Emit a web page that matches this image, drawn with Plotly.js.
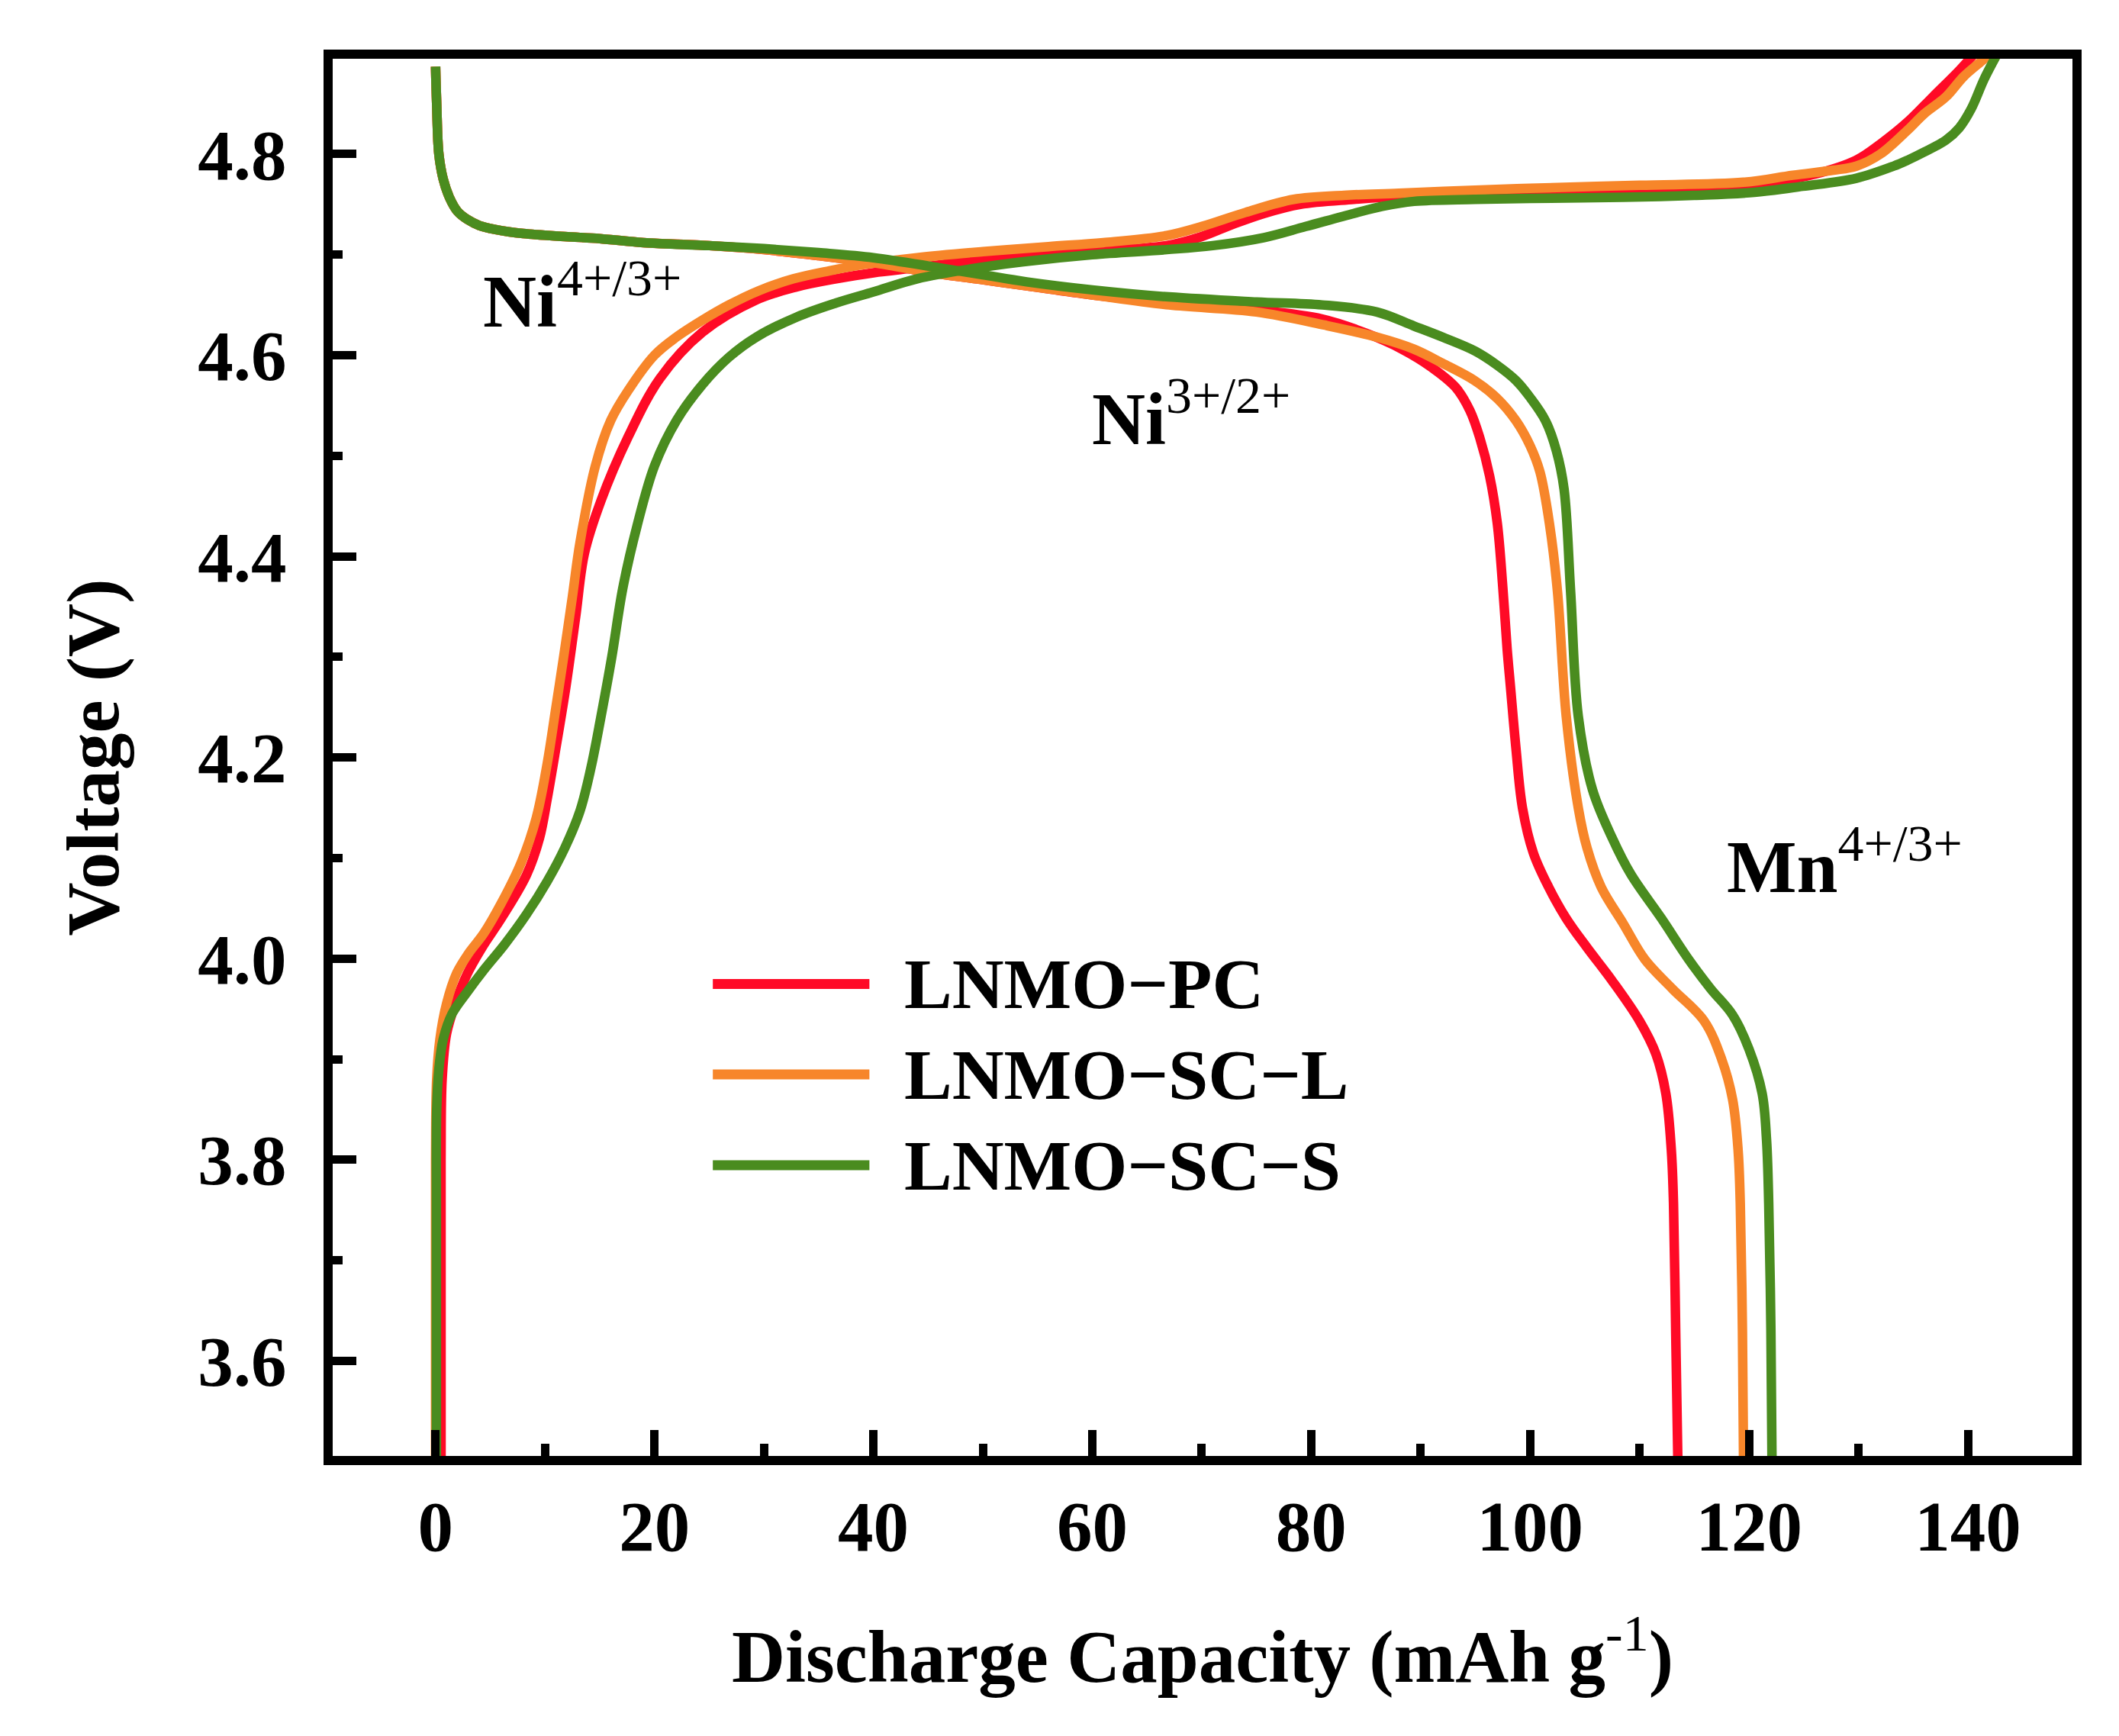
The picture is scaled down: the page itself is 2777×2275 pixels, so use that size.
<!DOCTYPE html>
<html>
<head>
<meta charset="utf-8">
<script src="https://cdn.plot.ly/plotly-3.0.1.min.js"></script>
<style>
  html, body { margin: 0; padding: 0; background: #fff; }
  #chart { width: 2777px; height: 2275px; }
</style>
</head>
<body>
<div id="chart"></div>
<script>
// sample names and colours
names = ["LNMO\u2212PC", "LNMO\u2212SC\u2212L", "LNMO\u2212SC\u2212S"]
colors = ["#ff0a26", "#f7862a", "#4a8c1f"]

// discharge branches (capacity, voltage)
pcDisX = [0, 0.1, 0.3, 0.7, 1.3, 2.0, 2.9, 4.0, 5.5, 8, 11.8, 15, 19, 25, 30, 35, 40, 46, 50, 54, 60, 67, 75, 81, 85, 88.3, 91, 93.2, 94.5, 95.4, 96.3, 97.0, 97.5, 97.9, 98.2, 98.7, 99.3, 100.3, 101.7, 103.3, 105.2, 107.5, 110, 111.5, 112.4, 112.9, 113.1, 113.3, 113.5]
pcDisV = [4.887, 4.85, 4.80, 4.775, 4.756, 4.743, 4.735, 4.729, 4.725, 4.721, 4.718, 4.716, 4.712, 4.709, 4.705, 4.699, 4.692, 4.681, 4.675, 4.669, 4.660, 4.652, 4.645, 4.636, 4.622, 4.606, 4.588, 4.568, 4.545, 4.518, 4.48, 4.433, 4.37, 4.308, 4.271, 4.21, 4.15, 4.105, 4.071, 4.04, 4.011, 3.978, 3.938, 3.905, 3.866, 3.81, 3.757, 3.63, 3.50]

sclDisX = [0, 0.1, 0.3, 0.7, 1.3, 2.0, 2.9, 4.0, 5.5, 8, 11.8, 15, 19, 25, 30, 35, 40, 46, 50, 54, 60, 67, 75, 81.2, 86, 89.4, 92, 94.9, 97, 98.7, 100, 100.9, 101.8, 102.5, 103.3, 104.4, 105.2, 106.5, 108.5, 110.5, 113, 115.9, 117.5, 118.5, 119.0, 119.2, 119.4, 119.5]
sclDisV = [4.887, 4.85, 4.80, 4.775, 4.756, 4.743, 4.735, 4.729, 4.725, 4.721, 4.718, 4.716, 4.712, 4.709, 4.705, 4.699, 4.692, 4.681, 4.675, 4.669, 4.660, 4.650, 4.643, 4.630, 4.618, 4.606, 4.592, 4.575, 4.557, 4.535, 4.51, 4.484, 4.43, 4.365, 4.241, 4.15, 4.11, 4.071, 4.035, 3.999, 3.97, 3.938, 3.90, 3.86, 3.81, 3.757, 3.63, 3.50]

scsDisX = [0, 0.1, 0.3, 0.7, 1.3, 2.0, 2.9, 4.0, 5.5, 8, 11.8, 15, 19, 25, 30, 35, 40, 46, 50, 54, 60, 67, 75, 81, 86, 89.4, 92, 95, 97, 98.7, 100, 101.4, 102.4, 103.1, 103.7, 104.4, 105.7, 107.5, 109.2, 112, 114.5, 116.5, 118.5, 120, 121.2, 121.6, 121.8, 122.0, 122.1]
scsDisV = [4.887, 4.85, 4.80, 4.775, 4.756, 4.743, 4.735, 4.729, 4.725, 4.721, 4.718, 4.716, 4.712, 4.709, 4.706, 4.702, 4.697, 4.687, 4.680, 4.673, 4.665, 4.658, 4.653, 4.650, 4.643, 4.629, 4.618, 4.604, 4.590, 4.575, 4.558, 4.535, 4.505, 4.467, 4.365, 4.241, 4.168, 4.12, 4.084, 4.04, 3.999, 3.97, 3.944, 3.91, 3.866, 3.82, 3.757, 3.63, 3.50]

// charge branches
pcChgX = [0.5, 0.5, 0.6, 1.0, 1.8, 2.9, 4.3, 6.0, 8.3, 9.5, 10.2, 11.0, 11.9, 12.8, 13.6, 15.1, 17.6, 20.5, 24.4, 29.3, 33, 36.6, 40, 44, 50, 56, 61, 66.8, 70, 72.8, 75.7, 79, 83.9, 88, 95, 105, 115, 122, 126, 129.8, 132, 134.5, 136.8, 139.2, 140.6]
pcChgV = [3.50, 3.80, 3.88, 3.925, 3.955, 3.985, 4.012, 4.04, 4.083, 4.12, 4.159, 4.21, 4.27, 4.34, 4.403, 4.455, 4.519, 4.577, 4.623, 4.655, 4.668, 4.676, 4.682, 4.687, 4.695, 4.70, 4.704, 4.709, 4.718, 4.73, 4.741, 4.75, 4.755, 4.758, 4.760, 4.762, 4.766, 4.772, 4.78, 4.794, 4.81, 4.832, 4.857, 4.883, 4.90]

sclChgX = [0, 0, 0.1, 0.4, 1.0, 1.9, 3.0, 4.4, 6.0, 7.8, 9.2, 10.2, 11.0, 11.7, 12.5, 13.2, 14.6, 16, 17.6, 20, 22, 24.4, 26.8, 29.5, 32.7, 36, 39, 44, 50, 56, 61, 66.8, 70, 74, 78.4, 83, 88, 92.1, 100, 110, 119.5, 124, 127.7, 129.8, 132, 134.5, 136, 138, 139.6, 141.5, 141.9]
sclChgV = [3.50, 3.80, 3.88, 3.92, 3.955, 3.985, 4.005, 4.025, 4.055, 4.095, 4.14, 4.194, 4.25, 4.30, 4.36, 4.414, 4.49, 4.535, 4.565, 4.60, 4.618, 4.635, 4.65, 4.664, 4.676, 4.684, 4.69, 4.697, 4.703, 4.708, 4.712, 4.719, 4.728, 4.742, 4.755, 4.759, 4.761, 4.763, 4.766, 4.769, 4.772, 4.779, 4.784, 4.788, 4.80, 4.824, 4.84, 4.857, 4.877, 4.895, 4.90]

scsChgX = [0.07, 0.07, 0.1, 0.3, 0.7, 1.5, 2.9, 4.5, 6.3, 8.3, 10.2, 11.8, 13.2, 14.2, 15.1, 16.1, 17.1, 18.4, 20, 22, 24.4, 26.8, 29.3, 33, 36.6, 40, 44, 49, 53.7, 60, 66.8, 71, 75.7, 79.5, 83.9, 86.5, 89.4, 95, 100, 108.5, 115, 120.5, 124.9, 129.8, 133.2, 134.5, 136, 138, 139.2, 140.3, 141.5, 142.7]
scsChgV = [3.50, 3.75, 3.85, 3.89, 3.92, 3.945, 3.967, 3.99, 4.014, 4.044, 4.077, 4.11, 4.147, 4.19, 4.24, 4.30, 4.368, 4.43, 4.49, 4.535, 4.571, 4.598, 4.618, 4.638, 4.652, 4.663, 4.676, 4.686, 4.693, 4.70, 4.705, 4.709, 4.717, 4.728, 4.741, 4.748, 4.753, 4.755, 4.756, 4.757, 4.759, 4.762, 4.768, 4.776, 4.788, 4.794, 4.802, 4.814, 4.826, 4.845, 4.875, 4.90]

// redox couple labels
couples = ["Ni<sup><span style=\"font-weight:normal\">4+/3+</span></sup>",
           "Ni<sup><span style=\"font-weight:normal\">3+/2+</span></sup>",
           "Mn<sup><span style=\"font-weight:normal\">4+/3+</span></sup>"]
coupleX = [4.2, 59.8, 117.8]
coupleV = [4.611, 4.494, 4.049]

const serif = "'Liberation Serif', 'Times New Roman', serif"

let branches = [
  [pcDisX, pcDisV, pcChgX, pcChgV],
  [sclDisX, sclDisV, sclChgX, sclChgV],
  [scsDisX, scsDisV, scsChgX, scsChgV]
]

let traces = []
branches.forEach((b, i) => {
  traces.push({
    type: 'scatter', mode: 'lines', name: names[i], x: b[0], y: b[1],
    line: { color: colors[i], width: 12.5, shape: 'spline', smoothing: 1 },
    showlegend: false, hoverinfo: 'skip'
  })
  traces.push({
    type: 'scatter', mode: 'lines', name: names[i], x: b[2], y: b[3],
    line: { color: colors[i], width: 12.5, shape: 'spline', smoothing: 1 },
    showlegend: false, hoverinfo: 'skip'
  })
})

// hand drawn legend in paper coordinates
let legendY = [0.3378, 0.2731, 0.2081]
let shapes = []
let annotations = []
names.forEach((n, i) => {
  shapes.push({
    type: 'line', xref: 'paper', yref: 'paper',
    x0: 0.2185, x1: 0.3085, y0: legendY[i], y1: legendY[i],
    line: { color: colors[i], width: 13 }
  })
  annotations.push({
    xref: 'paper', yref: 'paper', x: 0.3278, y: legendY[i],
    xanchor: 'left', yanchor: 'middle', showarrow: false, text: n,
    font: { family: serif, size: 94, color: '#000', weight: 'bold' }
  })
})

couples.forEach((c, i) => {
  annotations.push({
    x: coupleX[i], y: coupleV[i], xref: 'x', yref: 'y',
    xanchor: 'left', yanchor: 'bottom', showarrow: false, text: c,
    font: { family: serif, size: 97, color: '#000', weight: 'bold' }
  })
})

let axisCommon = {
  showgrid: false, zeroline: false,
  showline: true, linecolor: '#000', linewidth: 12, mirror: true,
  ticks: 'inside', tickcolor: '#000', tickwidth: 11,
  tickfont: { family: serif, size: 93, color: '#000', weight: 'bold' }
}

Plotly.newPlot('chart', traces, {
  width: 2777,
  height: 2275,
  margin: { l: 436, r: 61, t: 77, b: 367 },
  paper_bgcolor: '#ffffff',
  plot_bgcolor: '#ffffff',
  showlegend: false,
  xaxis: Object.assign({}, axisCommon, {
    range: [-9.4, 149.55],
    tick0: 0, dtick: 20, ticklen: 34,
    minor: { ticks: 'inside', dtick: 10, ticklen: 16, tickwidth: 11, tickcolor: '#000' },
    ticklabelstandoff: 0,
    title: {
      text: "Discharge Capacity (mAh g<sup><span style=\"font-weight:normal\">-1</span></sup>)",
      font: { family: serif, size: 97, color: '#000', weight: 'bold' },
      standoff: 90
    }
  }),
  yaxis: Object.assign({}, axisCommon, {
    range: [3.5055, 4.8948],
    tick0: 3.6, dtick: 0.2, ticklen: 31, tickformat: '.1f',
    minor: { ticks: 'inside', dtick: 0.1, ticklen: 13, tickwidth: 11, tickcolor: '#000' },
    ticklabelstandoff: 30,
    title: {
      text: "Voltage (V)",
      font: { family: serif, size: 97, color: '#000', weight: 'bold' },
      standoff: 76
    }
  }),
  shapes: shapes,
  annotations: annotations
}, { displayModeBar: false, staticPlot: true })
</script>
</body>
</html>
